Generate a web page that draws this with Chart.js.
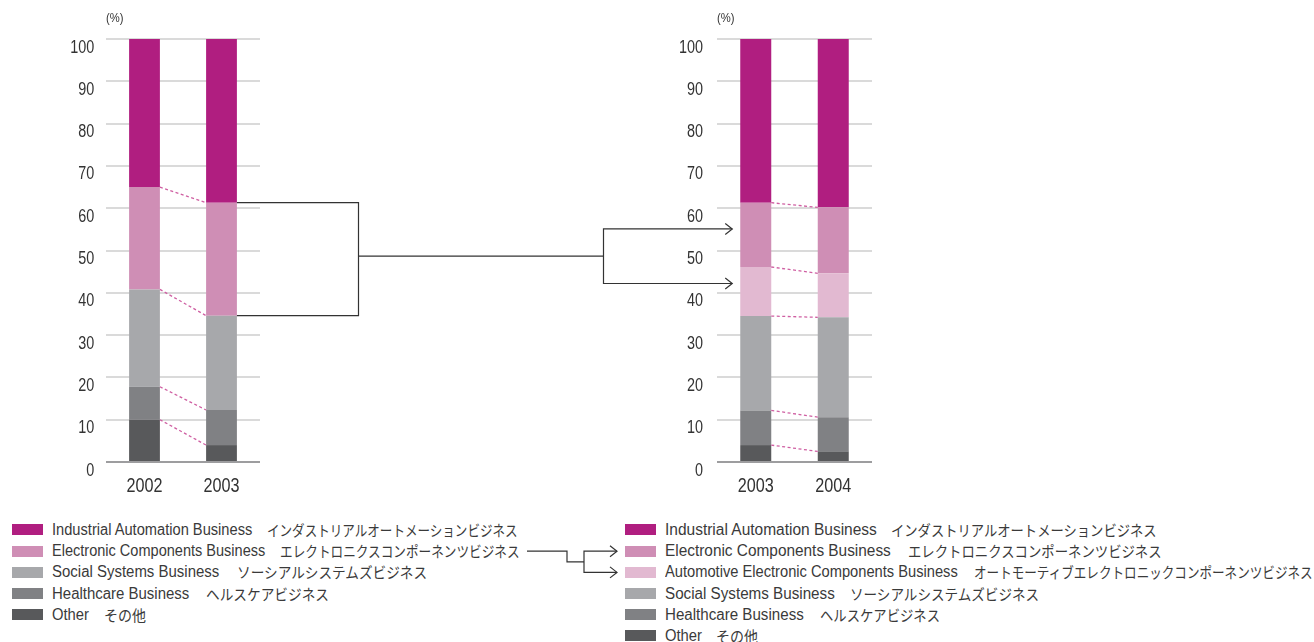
<!DOCTYPE html>
<html><head><meta charset="utf-8">
<script src="https://cdn.jsdelivr.net/npm/chart.js@4.4.1/dist/chart.umd.min.js"></script>
<style>
html,body{margin:0;padding:0;background:#fff;width:1314px;height:642px;overflow:hidden;position:relative;color:#333;
font-family:"Liberation Sans",Arial,sans-serif}
canvas{position:absolute;top:0}
#cA{left:0}
#cB{left:600px}
#overlay{left:0;top:0;pointer-events:none}
.unit{position:absolute;top:10px;font-size:12.5px;line-height:16px;color:#333;transform:scaleX(0.9);transform-origin:0 50%}
.sw{position:absolute;width:31px;height:11px}
.lat,.jp{position:absolute;white-space:nowrap;transform-origin:0 50%;line-height:16px;color:#3a3a3a}
.lat{font-size:16px}
.jp{font-family:"Noto Sans CJK JP","Noto Sans CJK SC",sans-serif;font-size:15px}
</style></head>
<body>
<canvas id="cA" width="290" height="505"></canvas>
<canvas id="cB" width="290" height="505"></canvas>
<div class="unit" style="left:105.5px">(%)</div>
<div class="unit" style="left:716.5px">(%)</div>
<div id="legA"></div><div id="legB"></div>
<canvas id="overlay" width="1314" height="642"></canvas>
<script>
// ---- data ----
const catsA = ['2002', '2003'];
const catsB = ['2003', '2004'];
// left chart (%), bottom to top
const otherA  = [10.0, 4.0];
const healthA = [7.8, 8.3];
const socialA = [23.0, 22.3];
const elecA   = [24.2, 26.7];
const indA    = [35.0, 38.7];
// right chart (%), bottom to top
const otherB  = [4.0, 2.5];
const healthB = [8.2, 8.1];
const socialB = [22.3, 23.6];
const autoB   = [11.6, 10.4];
const elecB   = [15.2, 15.6];
const indB    = [38.7, 39.8];

const yMin = 0, yMax = 100, yStep = 10;

const namesEn = ['Industrial Automation Business', 'Electronic Components Business',
  'Automotive Electronic Components Business', 'Social Systems Business', 'Healthcare Business', 'Other'];
const namesJp = ['インダストリアルオートメーションビジネス', 'エレクトロニクスコンポーネンツビジネス',
  'オートモーティブエレクトロニックコンポーネンツビジネス', 'ソーシアルシステムズビジネス', 'ヘルスケアビジネス', 'その他'];

const C = {
  ind: '#b01e80', elec: '#cf8eb5', auto: '#e2b9d1',
  social: '#a7a8ab', health: '#808184', other: '#58595b'
};

// legend text extents (layout): [enStart, enEnd, jpStart, jpEnd]
const legLayoutA = [[51.5, 252, 267, 518], [51.5, 265, 280, 520], [51.5, 219, 237, 427], [51.5, 189, 206, 329], [51.5, 88.5, 104, 146]];
const legLayoutB = [[665, 877, 891, 1157], [665, 891, 908, 1162], [665, 957.5, 973.5, 1312], [665, 835, 850, 1039], [665, 804, 820, 940], [665, 702, 716, 758]];

const TFONT = '"Liberation Sans", Arial, sans-serif';

// ---- dashed connectors between bars ----
const dashPlugin = {
  id: 'dashLinks',
  afterDatasetsDraw(chart) {
    const ctx = chart.ctx, ys = chart.scales.y;
    const ds = chart.data.datasets;
    const m0 = chart.getDatasetMeta(0);
    const b0 = m0.data[0], b1 = m0.data[1];
    const x0 = b0.x + b0.width / 2, x1 = b1.x - b1.width / 2;
    let c0 = 0, c1 = 0;
    ctx.save();
    ctx.strokeStyle = '#cf5fa2';
    ctx.lineWidth = 1.3;
    ctx.setLineDash([3, 2.5]);
    for (let k = 0; k < ds.length - 1; k++) {
      c0 += ds[k].data[0]; c1 += ds[k].data[1];
      ctx.beginPath();
      ctx.moveTo(x0, ys.getPixelForValue(c0));
      ctx.lineTo(x1, ys.getPixelForValue(c1));
      ctx.stroke();
    }
    ctx.restore();
  }
};

// ---- condensed tick labels, drawn from the library's scales ----
const tickPlugin = {
  id: 'condTicks',
  afterDraw(chart, args, opts) {
    const ctx = chart.ctx, ys = chart.scales.y, xs = chart.scales.x, ca = chart.chartArea;
    ctx.save();
    ctx.fillStyle = '#333';
    ctx.textBaseline = 'alphabetic';
    ctx.font = '18px ' + TFONT;
    ctx.textAlign = 'right';
    ys.ticks.forEach((t, i) => {
      ctx.save();
      ctx.translate(ca.left - opts.gap, ys.getPixelForTick(i) + 13.5);
      ctx.scale(0.8, 1);
      ctx.fillText(t.label, 0, 0);
      ctx.restore();
    });
    ctx.font = '20px ' + TFONT;
    ctx.textAlign = 'center';
    xs.ticks.forEach((t, i) => {
      ctx.save();
      ctx.translate(xs.getPixelForTick(i), ca.bottom + 30);
      ctx.scale(0.81, 1);
      ctx.fillText(chart.data.labels[i], 0, 0);
      ctx.restore();
    });
    ctx.restore();
  }
};

function makeChart(id, cats, series, yWidth, padRight, gap) {
  return new Chart(document.getElementById(id), {
    type: 'bar',
    data: {
      labels: cats,
      datasets: series.map(s => ({ label: s[0], data: s[1], backgroundColor: s[2], borderWidth: 0,
        categoryPercentage: 1.0, barPercentage: 0.4 }))
    },
    options: {
      responsive: false, animation: false, devicePixelRatio: 1,
      layout: { padding: { top: 39, right: padRight, bottom: 0, left: 0 } },
      plugins: { legend: { display: false }, tooltip: { enabled: false }, condTicks: { gap: gap } },
      scales: {
        x: {
          stacked: true,
          grid: { display: false, drawTicks: false },
          border: { display: false },
          ticks: { display: false },
          afterFit(s) { s.height = 43; }
        },
        y: {
          stacked: true, min: yMin, max: yMax,
          grid: {
            drawTicks: false, lineWidth: 2,
            color: c => c.tick && c.tick.value === 0 ? '#9d9d9f' : '#dadada'
          },
          border: { display: false },
          ticks: { stepSize: yStep, display: false },
          afterFit(s) { s.width = yWidth; }
        }
      }
    },
    plugins: [dashPlugin, tickPlugin]
  });
}

const chartA = makeChart('cA', catsA, [
  ['Other', otherA, C.other], ['Healthcare', healthA, C.health], ['Social', socialA, C.social],
  ['Electronic', elecA, C.elec], ['Industrial', indA, C.ind]
], 106, 30, 11.7);

const chartB = makeChart('cB', catsB, [
  ['Other', otherB, C.other], ['Healthcare', healthB, C.health], ['Social', socialB, C.social],
  ['Automotive', autoB, C.auto], ['Electronic', elecB, C.elec], ['Industrial', indB, C.ind]
], 117, 18, 14);

// ---- legends ----
const ROW0 = 530, ROWSTEP = 21.2;
function buildLegend(host, keys, swX, layout) {
  const order = { ind: 0, elec: 1, auto: 2, social: 3, health: 4, other: 5 };
  const el = document.getElementById(host);
  keys.forEach((k, i) => {
    const cy = ROW0 + i * ROWSTEP;
    const L = layout[i];
    const sw = document.createElement('div');
    sw.className = 'sw'; sw.style.left = swX + 'px'; sw.style.top = (cy - 5.7) + 'px'; sw.style.background = C[k];
    el.appendChild(sw);
    const la = document.createElement('span');
    la.className = 'lat'; la.textContent = namesEn[order[k]];
    la.style.left = L[0] + 'px'; la.style.top = (cy - 8) + 'px';
    el.appendChild(la);
    la.style.transform = 'scaleX(' + ((L[1] - L[0]) / la.offsetWidth) + ')';
    const jp = document.createElement('span');
    jp.className = 'jp'; jp.textContent = namesJp[order[k]];
    jp.style.left = L[2] + 'px'; jp.style.top = (cy - 8) + 'px';
    el.appendChild(jp);
    jp.style.transform = 'scaleX(' + ((L[3] - L[2]) / jp.offsetWidth) + ')';
  });
}
buildLegend('legA', ['ind', 'elec', 'social', 'health', 'other'], 12, legLayoutA);
buildLegend('legB', ['ind', 'elec', 'auto', 'social', 'health', 'other'], 625, legLayoutB);

// ---- overlay connectors ----
const ov = document.getElementById('overlay').getContext('2d');
ov.strokeStyle = '#333';
ov.lineWidth = 1.2;
function arrowHead(x, y) {
  ov.beginPath(); ov.moveTo(x - 7, y - 5.5); ov.lineTo(x, y); ov.lineTo(x - 7, y + 5.5); ov.stroke();
}
function line(pts) {
  ov.beginPath(); ov.moveTo(pts[0][0], pts[0][1]);
  for (let i = 1; i < pts.length; i++) ov.lineTo(pts[i][0], pts[i][1]);
  ov.stroke();
}
(function () {
  const offA = 0, offB = 600;
  const ysA = chartA.scales.y, ysB = chartB.scales.y;
  const barA = chartA.getDatasetMeta(0).data[1];
  const barB = chartB.getDatasetMeta(0).data[0];
  const xA = offA + barA.x + barA.width / 2;
  const xB = offB + barB.x - barB.width / 2 - 8;
  const topA = ysA.getPixelForValue(100 - indA[1]);
  const botA = ysA.getPixelForValue(otherA[1] + healthA[1] + socialA[1]);
  const yArr1 = ysB.getPixelForValue(55.1), yArr2 = ysB.getPixelForValue(42.2);
  const yMid = (yArr1 + yArr2) / 2;
  const xBr1 = 358.5, xBr2 = 603.5;
  line([[xA, topA], [xBr1, topA], [xBr1, botA], [xA, botA]]);
  line([[xBr1, yMid], [xBr2, yMid]]);
  line([[xB, yArr1], [xBr2, yArr1], [xBr2, yArr2], [xB, yArr2]]);
  arrowHead(xB, yArr1); arrowHead(xB, yArr2);

  // legend connector
  const r1 = ROW0 + ROWSTEP * 1, r2 = ROW0 + ROWSTEP * 2;
  const sx = legLayoutA[1][3] + 7;
  const lm = (r1 + r2) / 2;
  line([[sx, r1], [567, r1], [567, lm], [584, lm]]);
  line([[617, r1], [584, r1], [584, r2], [617, r2]]);
  arrowHead(617, r1); arrowHead(617, r2);
})();
</script>
</body></html>
